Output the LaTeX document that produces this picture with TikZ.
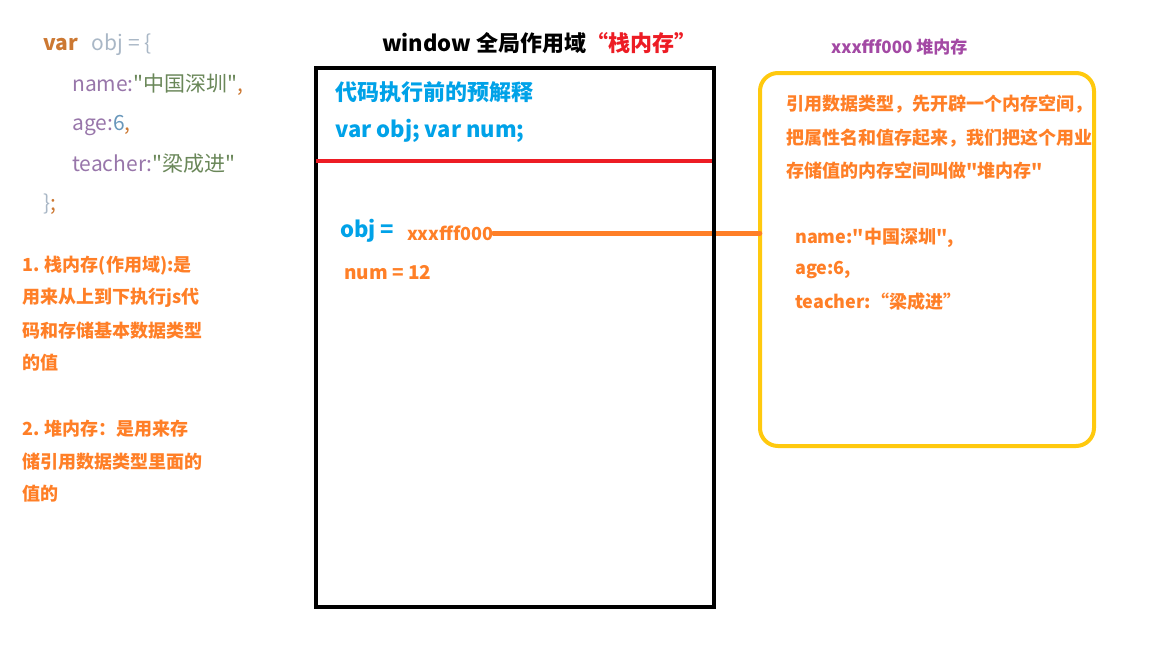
\documentclass[tikz,border=0pt]{standalone}
\usepackage{fontspec}
\setmainfont{Noto Sans CJK SC}
\newfontfamily\plainfam{Noto Sans CJK SC}
\newcommand{\dq}{{\plainfam\symbol{34}}}
\definecolor{pred}{HTML}{ED1C24}
\definecolor{porange}{HTML}{FF7F27}
\definecolor{pyellow}{HTML}{FFC90E}
\definecolor{pblue}{HTML}{00A2E8}
\definecolor{ppurple}{HTML}{A349A4}
\definecolor{ckw}{HTML}{CC7832}
\definecolor{cid}{HTML}{A9B7C6}
\definecolor{cprop}{HTML}{9876AA}
\definecolor{cstr}{HTML}{6A8759}
\definecolor{cnum}{HTML}{6897BB}
\begin{document}
\begin{tikzpicture}[x=1pt,y=-1pt,
  code/.style={anchor=west,inner sep=0pt,font=\fontsize{21}{21}\selectfont},
  note/.style={anchor=west,inner sep=0pt,text=porange,font=\bfseries\fontsize{18}{18}\selectfont},
  head/.style={anchor=west,inner sep=0pt,font=\bfseries\fontsize{22}{22}\selectfont},
  stackbox/.style={draw=black,line width=4.5pt},
  heapbox/.style={draw=pyellow,line width=4pt,rounded corners=18pt},
  link/.style={draw=porange,line width=5pt,line cap=round}]
\useasboundingbox (0,0) rectangle (1152,648);
\fill[white] (0,0) rectangle (1152,648);

% code
\node[code] (c1) at (43,45) {\textcolor{ckw}{\bfseries var}\hspace{14pt}\textcolor{cid}{obj = \{}};
\node[code] (c2) at (72,85) {\textcolor{cprop}{name:}\textcolor{cstr}{\dq 中国深圳\dq}\textcolor{ckw}{,}};
\node[code] (c3) at (72,125) {\textcolor{cprop}{age:}\textcolor{cnum}{6}\textcolor{ckw}{,}};
\node[code] (c4) at (72,164) {\textcolor{cprop}{teacher:}\textcolor{cstr}{\dq 梁成进\dq}};
\node[code] (c5) at (43,204) {\textcolor{cid}{\}}\textcolor{ckw}{;}};

% left notes
\node[note] (l1) at (22,266) {1. 栈内存(作用域):是};
\node[note] (l2) at (22,298) {用来从上到下执行js代};
\node[note] (l3) at (22,331) {码和存储基本数据类型};
\node[note] (l4) at (22,363) {的值};
\node[note] (l5) at (22,429) {2. 堆内存：是用来存};
\node[note] (l6) at (22,462) {储引用数据类型里面的};
\node[note] (l7) at (22,494) {值的};

% stack
\node[head] (title) at (382,43) {window 全局作用域\textcolor{pred}{“栈内存”}};
\draw[stackbox] (316,68) rectangle (714,607);
\coordinate (rl) at (316,161);
\coordinate (rr) at (713,161);
\draw[draw=pred,line width=4pt] (rl) -- (rr);
\node[head,text=pblue] (pre1) at (335,92) {代码执行前的预解释};
\node[head,text=pblue] (pre2) at (335,131) {var obj; var num;};
\node[head,text=pblue] (obj) at (340,231) {obj =};
\node[note] (addr) at (407,233) {xxxfff000};
\node[note,font=\bfseries\fontsize{19}{19}\selectfont] (num) at (344,273) {num = 12};

% heap
\node[anchor=west,inner sep=0pt,text=ppurple,font=\bfseries\fontsize{17}{17}\selectfont] (htitle) at (831,47) {xxxfff000 堆内存};
\node[draw=none,minimum width=334pt,minimum height=373pt,inner sep=0pt] (heap) at (927,259.5) {};
\draw[heapbox] (760,73) rectangle (1094,446);
\draw[link] (addr.east) -- (heap.west |- addr.east);
\draw[stackbox] (714,68) -- (714,607);
\node[note] (h1) at (786,104) {引用数据类型，先开辟一个内存空间，};
\node[note] (h2) at (786,138) {把属性名和值存起来，我们把这个用业};
\node[note] (h3) at (786,171) {存储值的内存空间叫做\dq 堆内存\dq};
\node[note] (h4) at (795,238) {name:\dq 中国深圳\dq,};
\node[note] (h5) at (795,270) {age:6,};
\node[note] (h6) at (795,302) {teacher:“梁成进”};
\end{tikzpicture}
\end{document}
